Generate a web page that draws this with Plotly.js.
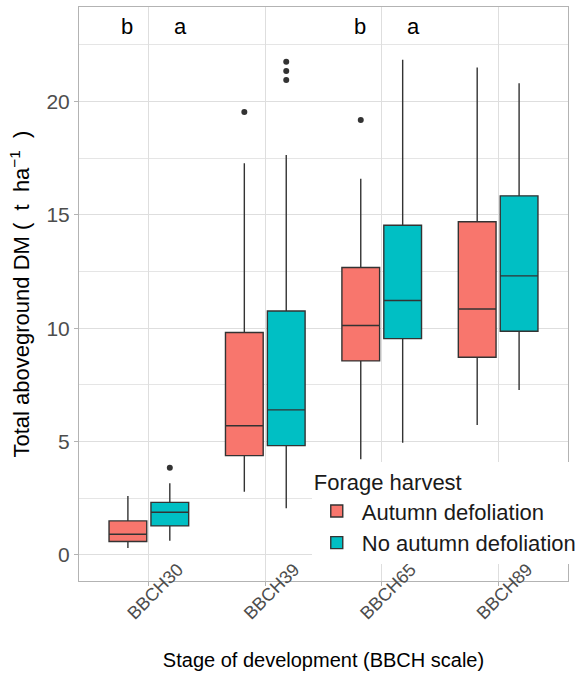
<!DOCTYPE html>
<html>
<head>
<meta charset="utf-8">
<script src="https://cdn.plot.ly/plotly-3.0.1.min.js"></script>
<style>html,body{margin:0;padding:0;background:#fff;}#chart{width:579px;height:685px;}</style>
</head>
<body>
<div id="chart"></div>
<script>
// ---- data ----
var stages = ["BBCH30", "BBCH39", "BBCH65", "BBCH89"];

var autumnQ1      = [0.59, 4.38, 8.56, 8.72];
var autumnMedian  = [0.91, 5.70, 10.12, 10.85];
var autumnQ3      = [1.50, 9.81, 12.68, 14.70];
var autumnLower   = [0.31, 2.79, 4.22, 5.73];
var autumnUpper   = [2.60, 17.28, 16.59, 21.50];
var autumnOutX    = ["BBCH39", "BBCH65"];
var autumnOutY    = [19.54, 19.19];

var noQ1      = [1.28, 4.82, 9.54, 9.87];
var noMedian  = [1.88, 6.40, 11.22, 12.31];
var noQ3      = [2.32, 10.76, 14.54, 15.84];
var noLower   = [0.63, 2.06, 4.95, 7.28];
var noUpper   = [3.16, 17.64, 21.84, 20.81];
var noOutX    = ["BBCH30", "BBCH39", "BBCH39", "BBCH39"];
var noOutY    = [3.85, 20.95, 21.35, 21.75];

var letterText  = ["b", "a", "b", "a"];
var letterStage = ["BBCH30", "BBCH30", "BBCH65", "BBCH65"];
var letterSide  = [-1, 1, -1, 1];

var seriesNames = ["Autumn defoliation", "No autumn defoliation"];

// ---- styles ----
var fillA = "#F8766D", fillN = "#00BFC4";
var lineCol = "#333333";
var gridCol = "#DEDEDE", borderCol = "#B3B3B3", tickCol = "#4D4D4D";
var font = "Liberation Sans, Arial, sans-serif";

function boxTrace(name, grp, fill, q1, med, q3, lo, hi) {
  return {
    type: "box", name: name, offsetgroup: grp,
    x: stages, q1: q1, median: med, q3: q3, lowerfence: lo, upperfence: hi,
    boxpoints: false, fillcolor: fill,
    line: {color: lineCol, width: 1.4}, whiskerwidth: 0,
    hoverinfo: "skip"
  };
}
function outTrace(grp, xs, ys) {
  return {
    type: "scatter", mode: "markers", offsetgroup: grp, showlegend: false,
    x: xs, y: ys, marker: {color: "#333333", size: 6}, hoverinfo: "skip"
  };
}

var data = [
  boxTrace(seriesNames[0], "A", fillA, autumnQ1, autumnMedian, autumnQ3, autumnLower, autumnUpper),
  boxTrace(seriesNames[1], "N", fillN, noQ1, noMedian, noQ3, noLower, noUpper),
  outTrace("A", autumnOutX, autumnOutY),
  outTrace("N", noOutX, noOutY)
];

var annotations = letterText.map(function (t, i) {
  return {
    x: stages.indexOf(letterStage[i]) + letterSide[i] * 0.19 + (letterSide[i] > 0 ? 0.08 : 0),
    xref: "x", y: 23.3, yref: "y", text: t, showarrow: false,
    font: {family: font, size: 22, color: "#000"}
  };
});

var layout = {
  width: 579, height: 685,
  margin: {l: 79, r: 11, t: 7, b: 104, autoexpand: false},
  paper_bgcolor: "#fff", plot_bgcolor: "#fff",
  font: {family: font, color: "#000"},
  boxmode: "group", boxgap: 0.28, boxgroupgap: 0.1,
  scattermode: "group", scattergap: 0.28,
  showlegend: true,
  legend: {
    x: 0.476, xanchor: "left", y: 0.208, yanchor: "top",
    bgcolor: "#fff", borderwidth: 0, itemwidth: 40,
    title: {text: "Forage harvest", font: {family: font, size: 22, color: "#1a1a1a"}},
    font: {family: font, size: 22, color: "#1a1a1a"},
    tracegroupgap: 0
  },
  xaxis: {
    type: "category", range: [-0.6, 3.6], automargin: false,
    showgrid: true, gridcolor: gridCol, gridwidth: 1,
    showline: true, linecolor: borderCol, linewidth: 1, mirror: true,
    ticks: "outside", ticklen: 4, tickcolor: borderCol,
    tickangle: -45, tickfont: {family: font, size: 18, color: tickCol},
    ticklabelshift: 29, ticklabelstandoff: -34,
    zeroline: false,
    title: {text: "Stage of development (BBCH scale)", font: {family: font, size: 20, color: "#000"}, standoff: 30}
  },
  yaxis: {
    range: [-1.15, 24.17], tickvals: [0, 5, 10, 15, 20], automargin: false,
    showgrid: true, gridcolor: gridCol, gridwidth: 1,
    minor: {dtick: 2.5, tick0: 0, showgrid: true, gridcolor: gridCol, gridwidth: 0.8, ticks: ""},
    showline: true, linecolor: borderCol, linewidth: 1, mirror: true,
    ticks: "outside", ticklen: 4, tickcolor: borderCol,
    tickfont: {family: font, size: 21, color: tickCol},
    zeroline: false,
    title: {text: "Total aboveground DM (\u00A0 t\u00A0 ha<sup>\u22121</sup>\u00A0 )", font: {family: font, size: 22, color: "#000"}, standoff: 10}
  },
  annotations: annotations,
  hovermode: false
};

Plotly.newPlot("chart", data, layout, {displayModeBar: false, staticPlot: true});
</script>
</body>
</html>
